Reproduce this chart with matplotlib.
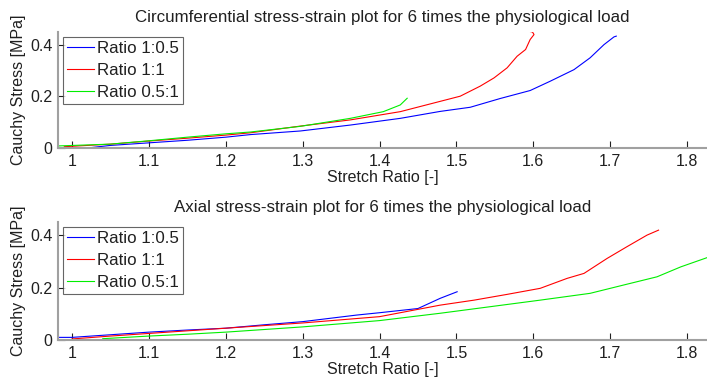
import matplotlib
matplotlib.use("Agg")
import matplotlib.pyplot as plt

plt.rcParams['font.family'] = ['Liberation Sans', 'DejaVu Sans']

labels = ["Ratio 1:0.5", "Ratio 1:1", "Ratio 0.5:1"]
colors = ["#0000ff", "#ff0000", "#00ee00"]

# Circumferential (top)
circ_x_105 = [1.02, 1.05, 1.1, 1.15, 1.2, 1.232, 1.297, 1.362, 1.427, 1.479, 1.518, 1.557, 1.596, 1.622, 1.653, 1.674, 1.692, 1.705, 1.708]
circ_y_105 = [0.0, 0.01, 0.02, 0.03, 0.042, 0.052, 0.066, 0.089, 0.115, 0.142, 0.158, 0.192, 0.223, 0.259, 0.304, 0.350, 0.401, 0.431, 0.434]
circ_x_11 = [0.99, 1.05, 1.1, 1.15, 1.2, 1.232, 1.297, 1.362, 1.427, 1.479, 1.505, 1.531, 1.549, 1.566, 1.579, 1.590, 1.596, 1.601, 1.599, 1.594]
circ_y_11 = [0.005, 0.015, 0.027, 0.038, 0.05, 0.059, 0.085, 0.109, 0.141, 0.181, 0.201, 0.240, 0.272, 0.311, 0.356, 0.382, 0.421, 0.440, 0.450, 0.453]
circ_x_051 = [0.982, 1.05, 1.1, 1.15, 1.2, 1.232, 1.297, 1.362, 1.405, 1.427, 1.436]
circ_y_051 = [0.008, 0.015, 0.028, 0.042, 0.055, 0.062, 0.084, 0.115, 0.141, 0.167, 0.193]

# Axial (bottom)
ax_x_105 = [0.982, 1.0, 1.05, 1.1, 1.15, 1.2, 1.25, 1.3, 1.37, 1.4, 1.45, 1.479, 1.501]
ax_y_105 = [0.01, 0.01, 0.02, 0.03, 0.038, 0.045, 0.058, 0.07, 0.095, 0.104, 0.12, 0.159, 0.184]
ax_x_11 = [1.0, 1.05, 1.1, 1.15, 1.2, 1.25, 1.3, 1.4, 1.479, 1.523, 1.566, 1.609, 1.644, 1.666, 1.696, 1.722, 1.748, 1.763]
ax_y_11 = [0.004, 0.015, 0.025, 0.035, 0.045, 0.055, 0.065, 0.089, 0.133, 0.152, 0.174, 0.197, 0.235, 0.254, 0.311, 0.356, 0.400, 0.419]
ax_x_051 = [1.04, 1.1, 1.15, 1.2, 1.25, 1.3, 1.4, 1.479, 1.544, 1.609, 1.674, 1.718, 1.761, 1.792, 1.826]
ax_y_051 = [0.005, 0.015, 0.022, 0.03, 0.04, 0.05, 0.074, 0.102, 0.127, 0.152, 0.178, 0.21, 0.241, 0.279, 0.314]

xticks = [1, 1.1, 1.2, 1.3, 1.4, 1.5, 1.6, 1.7, 1.8]
xticklabels = ["1", "1.1", "1.2", "1.3", "1.4", "1.5", "1.6", "1.7", "1.8"]
yticks = [0, 0.2, 0.4]
yticklabels = ["0", "0.2", "0.4"]

fig = plt.figure(figsize=(7.07, 3.83), dpi=100)
ax1 = fig.add_axes([58/707, 1-148/383, 1-58/707, 116/383])
ax2 = fig.add_axes([58/707, 1-340/383, 1-58/707, 118/383])

data = [
    (ax1, [(circ_x_105, circ_y_105), (circ_x_11, circ_y_11), (circ_x_051, circ_y_051)],
     "Circumferential stress-strain plot for 6 times the physiological load"),
    (ax2, [(ax_x_105, ax_y_105), (ax_x_11, ax_y_11), (ax_x_051, ax_y_051)],
     "Axial stress-strain plot for 6 times the physiological load"),
]

for ax, series, title in data:
    for (x, y), lab, c in zip(series, labels, colors):
        ax.plot(x, y, color=c, lw=0.8, label=lab)
    ax.set_xlim(0.9818, 1.826)
    ax.set_ylim(0, 0.45)
    ax.set_xticks(xticks)
    ax.set_xticklabels(xticklabels)
    ax.set_yticks(yticks)
    ax.set_yticklabels(yticklabels)
    for s in ["top", "right"]:
        ax.spines[s].set_visible(False)
    for s in ["left", "bottom"]:
        ax.spines[s].set_color("#a0a0a0")
        ax.spines[s].set_linewidth(1.5)
    ax.tick_params(direction="in", length=5, width=0.8, color="#202020",
                   labelsize=11.5, labelcolor="#202020", pad=4)
    ax.set_title(title, fontsize=12.2, color="#202020", pad=7)
    ax.set_xlabel("Stretch Ratio [-]", fontsize=11.5, color="#202020", labelpad=1)
    ax.set_ylabel("Cauchy Stress [MPa]", fontsize=11.5, color="#202020", labelpad=3)
    leg = ax.legend(loc="upper left", fontsize=12.2, frameon=True, fancybox=False,
                    handlelength=1.55, handletextpad=0.2, borderpad=0.25,
                    labelspacing=0.4, borderaxespad=0.3)
    leg.get_frame().set_edgecolor("#404040")
    leg.get_frame().set_linewidth(0.8)
    for t in leg.get_texts():
        t.set_color("#202020")

fig.savefig("out.png", dpi=100)
